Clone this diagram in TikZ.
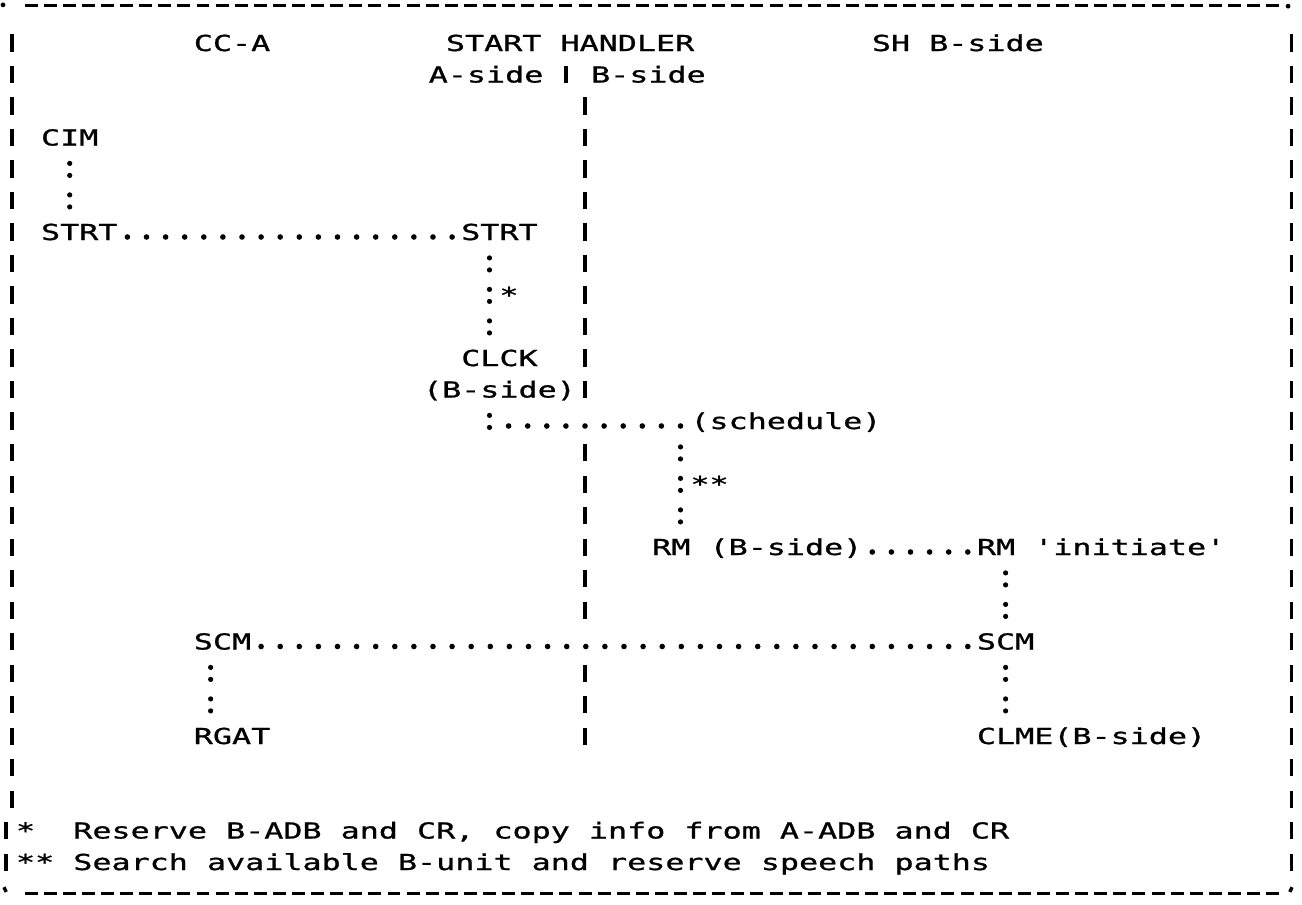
\documentclass[tikz,border=0pt]{standalone}
\usepackage{fontspec}
\newfontfamily\printfont[FakeStretch=1.442, FakeBold=1]{DejaVu Sans Mono}
\usetikzlibrary{positioning}

\newcommand{\cw}{9.55pt}

\begin{document}
\begin{tikzpicture}[
        x=9.55pt, y=-15.75pt,
        lbl/.style={font=\printfont\fontsize{11pt}{11pt}\selectfont, inner sep=0pt, anchor=west, text height=8pt, text depth=0pt, minimum height=12.6pt},
        hdots/.style={draw, line width=2.8pt, line cap=round, dash pattern=on 0pt off 9.55pt, dash phase=4.775pt},
        vdots/.style={draw, line width=2.6pt, line cap=round, dash pattern=on 0pt off 6pt on 0pt off 9.75pt, dash phase=9.3pt},
        bar/.style={line width=1.7pt},
        rule/.style={line width=1.5pt}
    ]
        \useasboundingbox (-0.6283,-0.3651) rectangle (67.5393,28.3651);

        % headings
        \node [lbl] (cca) at (9.5,1) {CC-A};
        \node [lbl] (sh) at (22.7,1) {START HANDLER};
        \node [lbl] (shb) at (45,1) {SH B-side};
        \node [lbl] (aside) at (21.8,2) {A-side};
        \node [lbl] (bside) at (30.3,2) {B-side};

        % A-side
        \node [lbl] (cim) at (1.5,4) {CIM};
        \node [lbl] (strta) at (1.5,7) {STRT};
        \node [lbl] (strtb) at (23.5,7) {STRT};
        \node [lbl] (stara) at (25.5,9) {*};
        \node [lbl] (clck) at (23.5,11) {CLCK};
        \node [lbl] (clckb) at (21.5,12) {(B-side)};
        \node [lbl] (scma) at (9.5,20) {SCM};
        \node [lbl] (rgat) at (9.5,23) {RGAT};

        % B-side
        \node [lbl] (sched) at (35.5,13) {(schedule)};
        \node [lbl] (starb) at (35.5,15) {**};
        \node [lbl] (rmb) at (33.5,17) {RM (B-side)};
        \node [lbl] (rmi) at (50.5,17) {RM 'initiate'};
        \node [lbl] (scmb) at (50.5,20) {SCM};
        \node [lbl] (clme) at (50.5,23) {CLME(B-side)};

        % footnotes
        \node [lbl] (notea) at (0.19,26) {*\ \ Reserve B-ADB and CR, copy info from A-ADB and CR};
        \node [lbl] (noteb) at (0.19,27) {** Search available B-unit and reserve speech paths};

        % connectors
        \draw [vdots] (cim.south) -- (cim.south |- strta.north);
        \draw [hdots] ([yshift=-2.5pt]strta.east) -- ([yshift=-2.5pt]strtb.west);
        \draw [vdots] ([xshift=1.5*\cw]strtb.south west) -- ([xshift=1.5*\cw]clck.north west);
        \draw [vdots] ([xshift=3.5*\cw]clckb.south west) -- ++(0pt,-12.95pt);
        \draw [hdots] ([yshift=-2.5pt]sched.west) -- ([yshift=-2.5pt]sched.west -| clck.center);
        \draw [vdots] ([xshift=-0.5*\cw]sched.south west) -- ([xshift=-0.5*\cw]sched.south west |- rmb.north);
        \draw [hdots] ([yshift=-2.5pt]rmb.east) -- ([yshift=-2.5pt]rmi.west);
        \draw [vdots] (scmb.north |- rmi.south) -- (scmb.north);
        \draw [hdots] ([yshift=-2.5pt]scma.east) -- ([yshift=-2.5pt]scmb.west);
        \draw [vdots] ([xshift=0.9*\cw]scma.south west) -- ([xshift=0.9*\cw]scma.south west |- rgat.north);
        \draw [vdots] (scmb.south) -- (scmb.south |- clme.north);

        % A-side | B-side divider
        \draw [bar] (29,1.73) -- (29,2.27);
        \foreach \r in {3,...,12,14,15,...,19,21,22,23}
            \draw [bar] (30,\r-0.27) -- (30,\r+0.27);

        % frame
        \foreach \r in {1,...,25}
            \draw [bar] (0,\r-0.27) -- (0,\r+0.27);
        \foreach \r in {26,27}
            \draw [bar] (-0.31,\r-0.27) -- (-0.31,\r+0.27);
        \foreach \r in {1,...,27}
            \draw [bar] (67,\r-0.27) -- (67,\r+0.27);
        \foreach \c in {1,...,66} {
            \draw [rule] (\c-0.34,-0.175) -- (\c+0.34,-0.175);
            \draw [rule] (\c-0.34,28) -- (\c+0.34,28);
        }
        \fill (-0.47,-0.21) circle (1.2pt);
        \fill (66.81,-0.17) circle (1.2pt);
        \draw [bar] (-0.42,27.8) -- (-0.3,27.95);
        \draw [bar] (66.9,27.95) -- (67.02,27.8);
\end{tikzpicture}
\end{document}
